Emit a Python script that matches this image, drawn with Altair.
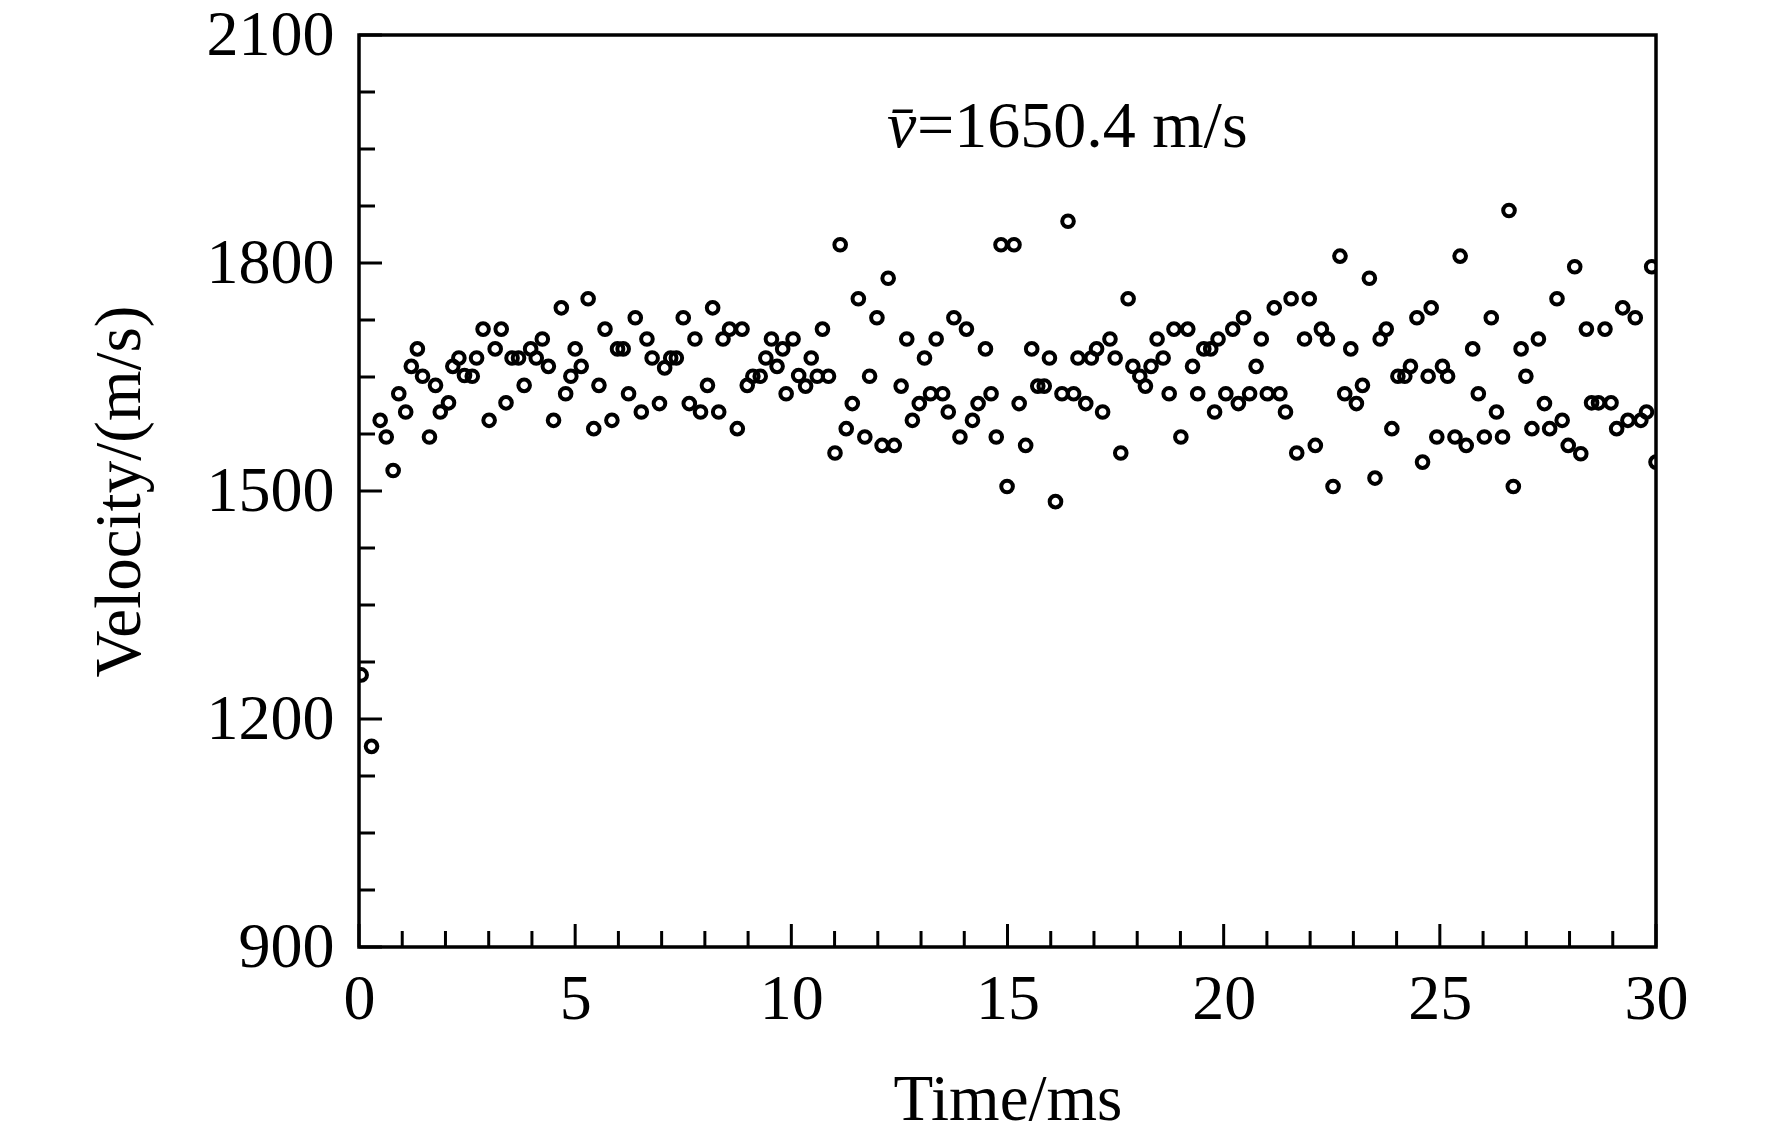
import altair as alt
import pandas as pd

# ---- data ----
time_ms = [
    0.05, 0.29,
    0.49, 0.63, 0.79, 0.92, 1.08, 1.21, 1.35, 1.47, 1.63, 1.77, 1.88, 2.07, 2.17, 2.31,
    2.44, 2.62, 2.72, 2.87, 3.01, 3.15, 3.29, 3.40, 3.54, 3.69, 3.82, 3.97, 4.10, 4.24,
    4.38, 4.50, 4.68, 4.78, 4.90,
    5.00, 5.14, 5.30, 5.43, 5.55, 5.69, 5.85, 5.98, 6.11, 6.235, 6.39, 6.53, 6.66, 6.78,
    6.95, 7.07, 7.21, 7.34, 7.50, 7.64, 7.77, 7.90, 8.06, 8.18, 8.32, 8.42, 8.57, 8.75,
    8.86, 8.98, 9.11, 9.28, 9.41, 9.54, 9.67, 9.80, 9.88,
    10.04, 10.17, 10.33, 10.46, 10.60, 10.72, 10.86, 11.01, 11.13, 11.27, 11.41, 11.55,
    11.70, 11.81, 11.98, 12.10, 12.24, 12.38, 12.54, 12.67, 12.80, 12.96, 13.08, 13.22,
    13.35, 13.50, 13.63, 13.76, 13.90, 14.05, 14.19, 14.32, 14.49, 14.62, 14.74, 14.85,
    14.99, 15.15, 15.27, 15.42, 15.56, 15.70, 15.85, 15.97, 16.11, 16.26, 16.40, 16.53,
    16.63, 16.81, 16.94, 17.06, 17.20, 17.37, 17.49, 17.62, 17.79, 17.90, 18.06, 18.19,
    18.32, 18.46, 18.60, 18.74, 18.85, 19.01, 19.17, 19.28, 19.40, 19.54, 19.70, 19.79,
    19.87,
    20.05, 20.21, 20.34, 20.46, 20.60, 20.75, 20.87, 21.01, 21.17, 21.30, 21.43, 21.56,
    21.69, 21.87, 21.98, 22.12, 22.26, 22.40, 22.53, 22.69, 22.80, 22.94, 23.07, 23.21,
    23.37, 23.50, 23.62, 23.76, 23.89, 24.03, 24.19, 24.32, 24.47, 24.60, 24.73,
    24.80, 24.93, 25.06, 25.18, 25.35, 25.47, 25.61, 25.76, 25.89, 26.03, 26.19, 26.31,
    26.45, 26.60, 26.70, 26.88, 26.99, 27.13, 27.28, 27.42, 27.54, 27.71, 27.83, 27.97,
    28.12, 28.26, 28.39, 28.51, 28.67, 28.82, 28.96, 29.09, 29.23, 29.35, 29.52, 29.65,
    29.78, 29.90, 30.00,
]

velocity = [
    1258, 1164,
    1593, 1571, 1527, 1628, 1604, 1664, 1687, 1651, 1571, 1639, 1604, 1616, 1664, 1675,
    1652, 1651, 1675, 1713, 1593, 1687, 1713, 1616, 1675, 1675, 1639, 1687, 1675, 1700,
    1664, 1593, 1741, 1628, 1651,
    1687, 1664, 1753, 1582, 1639, 1713, 1593, 1687, 1687, 1628, 1728, 1604, 1700, 1675,
    1615, 1662, 1675, 1675, 1728, 1615, 1700, 1604, 1639, 1741, 1604, 1700, 1713, 1582,
    1713, 1639, 1651, 1651, 1675, 1700, 1664, 1687, 1628,
    1700, 1652, 1638, 1675, 1651, 1713, 1651, 1550, 1824, 1582, 1615, 1753,
    1571, 1651, 1728, 1560, 1780, 1560, 1638, 1700, 1593, 1615, 1675, 1628,
    1700, 1628, 1604, 1728, 1571, 1713, 1593, 1615, 1687, 1628, 1571, 1824,
    1506, 1824, 1615, 1560, 1687, 1638, 1638, 1675, 1486, 1628, 1855, 1628,
    1675, 1615, 1675, 1687, 1604, 1700, 1675, 1550, 1753, 1664, 1651, 1638,
    1664, 1700, 1675, 1628, 1713, 1571, 1713, 1664, 1628, 1687, 1687, 1604,
    1700,
    1628, 1713, 1615, 1728, 1628, 1664, 1700, 1628, 1741, 1628, 1604, 1753,
    1550, 1700, 1753, 1560, 1713, 1700, 1506, 1809, 1628, 1687, 1615, 1639,
    1780, 1517, 1700, 1713, 1582, 1651, 1651, 1664, 1728, 1538, 1651,
    1741, 1571, 1664, 1651, 1571, 1809, 1560, 1687, 1628, 1571, 1728, 1604,
    1571, 1869, 1506, 1687, 1651, 1582, 1700, 1615, 1582, 1753, 1593, 1560,
    1795, 1549, 1713, 1616, 1616, 1713, 1616, 1582, 1741, 1593, 1728, 1593,
    1604, 1795, 1538,
]

x_major_ticks = [0, 5, 10, 15, 20, 25, 30]
x_minor_ticks = [t for t in range(0, 31) if t % 5 != 0]
y_major_ticks = [900, 1200, 1500, 1800, 2100]
y_minor_ticks = [v for v in range(900, 2101, 75) if v % 300 != 0]

x_title = "Time/ms"
y_title = "Velocity/(m/s)"
mean_symbol = "v\u0304"
mean_text = "=1650.4 m/s"

FONT = "Liberation Serif"
W, H = 1297, 912

df = pd.DataFrame({"t": time_ms, "v": velocity})

xscale = alt.Scale(domain=[0, 30], nice=False, zero=False)
yscale = alt.Scale(domain=[900, 2100], nice=False, zero=False)

x_axis = alt.Axis(
    values=x_major_ticks, format="d", title=x_title, ticks=False, tickSize=0,
    domain=False, grid=False, labelFont=FONT, labelFontSize=64, labelPadding=20,
    labelColor="black", labelFlush=False, labelOverlap=False,
    titleFont=FONT, titleFontSize=65, titleFontWeight="normal",
    titleColor="black", titleY=172, titleBaseline="alphabetic")
y_axis = alt.Axis(
    values=y_major_ticks, format="d", title=y_title, ticks=False, tickSize=0,
    domain=False, grid=False, labelFont=FONT, labelFontSize=64, labelPadding=25,
    labelColor="black", labelFlush=False, labelOverlap=False,
    titleFont=FONT, titleFontSize=65, titleFontWeight="normal",
    titleColor="black", titleX=-220, titleY=H / 2, titleAngle=270,
    titleAlign="center", titleBaseline="alphabetic")

points = alt.Chart(df).mark_point(
    shape="circle", filled=False, color="black", strokeWidth=4, size=135,
    opacity=1, clip=True
).encode(
    x=alt.X("t:Q", scale=xscale, axis=x_axis),
    y=alt.Y("v:Q", scale=yscale, axis=y_axis),
)

def xticks(vals, length):
    return alt.Chart(pd.DataFrame({"t": vals})).mark_rule(
        color="black", strokeWidth=3
    ).encode(
        x=alt.X("t:Q", scale=xscale, axis=x_axis),
        y=alt.value(H), y2=alt.value(H - length),
    )

def yticks(vals, length):
    return alt.Chart(pd.DataFrame({"v": vals})).mark_rule(
        color="black", strokeWidth=3
    ).encode(
        y=alt.Y("v:Q", scale=yscale, axis=y_axis),
        x=alt.value(0), x2=alt.value(length),
    )

ann_df = pd.DataFrame({"sym": [mean_symbol], "txt": [mean_text]})
ann_sym = alt.Chart(ann_df).mark_text(
    font=FONT, fontSize=66, fontStyle="italic", align="left",
    baseline="alphabetic", color="black"
).encode(x=alt.value(528), y=alt.value(112), text="sym:N")
ann_txt = alt.Chart(ann_df).mark_text(
    font=FONT, fontSize=66, align="left", baseline="alphabetic", color="black"
).encode(x=alt.value(558), y=alt.value(112), text="txt:N")

chart = alt.layer(
    points,
    xticks(x_major_ticks, 23), xticks(x_minor_ticks, 16),
    yticks(y_major_ticks, 23), yticks(y_minor_ticks, 16),
    ann_sym, ann_txt,
).properties(
    width=W, height=H,
    autosize=alt.AutoSizeParams(type="none"),
    padding={"left": 351, "top": 27, "right": 96, "bottom": 187},
    background="white",
).configure_view(stroke="black", strokeWidth=3.5)

chart.save("out.html", embed_options={"renderer": "svg", "actions": False})
